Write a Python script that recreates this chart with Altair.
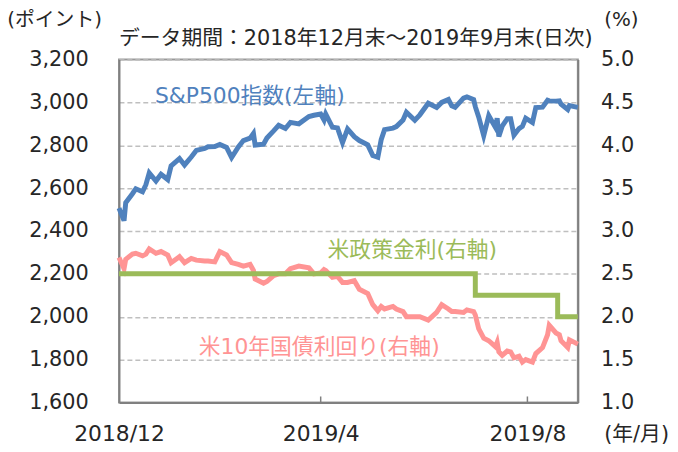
import altair as alt
import pandas as pd

# ---- data ----
dates = [
    "2018-12-31", "2019-01-03", "2019-01-04", "2019-01-08", "2019-01-10", "2019-01-14",
    "2019-01-16", "2019-01-18", "2019-01-22", "2019-01-25", "2019-01-29", "2019-01-31",
    "2019-02-05", "2019-02-08", "2019-02-12", "2019-02-15", "2019-02-20", "2019-02-22",
    "2019-02-26", "2019-03-01", "2019-03-05", "2019-03-08", "2019-03-12", "2019-03-15",
    "2019-03-19", "2019-03-21", "2019-03-22", "2019-03-27", "2019-03-29", "2019-04-02",
    "2019-04-05", "2019-04-09", "2019-04-12", "2019-04-17", "2019-04-23", "2019-04-26",
    "2019-04-30", "2019-05-02", "2019-05-03", "2019-05-07", "2019-05-10", "2019-05-13",
    "2019-05-16", "2019-05-20", "2019-05-23", "2019-05-28", "2019-05-31", "2019-06-03",
    "2019-06-05", "2019-06-07", "2019-06-12", "2019-06-14", "2019-06-18", "2019-06-20",
    "2019-06-25", "2019-06-28", "2019-07-03", "2019-07-08", "2019-07-11", "2019-07-15",
    "2019-07-17", "2019-07-19", "2019-07-24", "2019-07-26", "2019-07-30", "2019-07-31",
    "2019-08-02", "2019-08-05", "2019-08-08", "2019-08-12", "2019-08-13", "2019-08-14",
    "2019-08-16", "2019-08-19", "2019-08-21", "2019-08-23", "2019-08-26", "2019-08-28",
    "2019-08-30", "2019-09-03", "2019-09-05", "2019-09-09", "2019-09-12", "2019-09-13",
    "2019-09-17", "2019-09-19", "2019-09-20", "2019-09-24", "2019-09-25", "2019-09-30",
]
sp500 = [
    2507, 2448, 2532, 2574, 2597, 2583,
    2616, 2671, 2633, 2665, 2640, 2704,
    2738, 2708, 2745, 2776, 2785, 2793,
    2794, 2804, 2790, 2743, 2792, 2822,
    2833, 2855, 2801, 2805, 2834, 2867,
    2893, 2878, 2907, 2900, 2934, 2940,
    2946, 2918, 2946, 2884, 2881, 2812,
    2876, 2840, 2822, 2802, 2752, 2744,
    2826, 2873, 2880, 2887, 2918, 2954,
    2917, 2942, 2996, 2976, 3000, 3014,
    2984, 2977, 3020, 3026, 3013, 2980,
    2932, 2845, 2938, 2883, 2926, 2841,
    2889, 2924, 2924, 2847, 2878, 2888,
    2926, 2906, 2976, 2978, 3010, 3007,
    3006, 3007, 2992, 2967, 2985, 2977,
]
ust10 = [
    2.69, 2.56, 2.67, 2.73, 2.74, 2.71,
    2.73, 2.79, 2.74, 2.76, 2.72, 2.63,
    2.70, 2.63, 2.68, 2.66, 2.65, 2.65,
    2.64, 2.76, 2.72, 2.63, 2.61, 2.59,
    2.61, 2.54, 2.44, 2.39, 2.41, 2.48,
    2.50, 2.50, 2.56, 2.59, 2.57, 2.50,
    2.51, 2.55, 2.54, 2.46, 2.47, 2.40,
    2.40, 2.42, 2.32, 2.27, 2.14, 2.07,
    2.12, 2.09, 2.12, 2.09, 2.06, 2.00,
    2.00, 2.00, 1.96, 2.05, 2.14, 2.09,
    2.06, 2.06, 2.05, 2.08, 2.06, 2.02,
    1.86, 1.75, 1.72, 1.65, 1.70, 1.59,
    1.55, 1.60, 1.59, 1.52, 1.54, 1.47,
    1.50, 1.47, 1.57, 1.64, 1.79, 1.90,
    1.81, 1.79, 1.72, 1.64, 1.73, 1.68,
]
fed_dates = ["2018-12-31", "2019-07-31", "2019-09-18", "2019-09-30"]
fed_rate = [2.50, 2.25, 2.00, 2.00]

left_ticks = [1600, 1800, 2000, 2200, 2400, 2600, 2800, 3000, 3200]
right_ticks = [1.0, 1.5, 2.0, 2.5, 3.0, 3.5, 4.0, 4.5, 5.0]
x_tick_dates = ["2019-04-30", "2019-08-31"]

df = pd.DataFrame({"date": dates, "sp": sp500, "ust": ust10})
fed = pd.DataFrame({"date": fed_dates, "rate": fed_rate})
xt = pd.DataFrame({"date": x_tick_dates})

W, H = 463, 346
NUMFONT = "DejaVu Sans"
FONT = "DejaVu Sans, Noto Sans CJK JP"
BLUE = "#4F81BD"
GREEN = "#9BBB59"
PINK = "#FF9494"
TXT = "#262626"
AXSIZE = 21

xscale = alt.Scale(type="utc", domain=["2018-12-31", "2019-09-30"])
xaxis = alt.Axis(
    values=[alt.DateTime(year=2018, month=12, date=31, utc=True),
            alt.DateTime(year=2019, month=4, date=30, utc=True),
            alt.DateTime(year=2019, month=8, date=31, utc=True)],
    labelExpr="utcFormat(datum.value, '%Y/%-m')",
    title=None, ticks=False, grid=False, labelPadding=21, labelFontSize=22,
    labelColor=TXT, labelFont=NUMFONT, domainColor="#808080", domainWidth=2,
    labelAngle=0, labelFlush=False, labelBound=False, labelOverlap=False,
)
yl = alt.Scale(domain=[1600, 3200], nice=False, zero=False)
yr = alt.Scale(domain=[1.0, 5.0], nice=False, zero=False)

sp_line = alt.Chart(df).mark_line(color=BLUE, strokeWidth=5).encode(
    x=alt.X("date:T", scale=xscale, axis=xaxis),
    y=alt.Y("sp:Q", scale=yl, axis=alt.Axis(
        values=left_ticks, format=",.0f", title=None, ticks=False, orient="left",
        grid=True, gridDash=[5, 3], gridColor="#BFBFBF", gridWidth=1.5,
        labelPadding=31, labelFontSize=AXSIZE, labelColor=TXT, labelFont=NUMFONT,
        domainColor="#808080", domainWidth=2, labelOverlap=False, labelFlush=False)),
)

ust_line = alt.Chart(df).mark_line(color=PINK, strokeWidth=5).encode(
    x=alt.X("date:T", scale=xscale),
    y=alt.Y("ust:Q", scale=yr, axis=alt.Axis(
        values=right_ticks, format=".1f", title=None, ticks=False, orient="right",
        grid=False, labelPadding=23, labelFontSize=AXSIZE, labelColor=TXT,
        labelFont=NUMFONT, domainColor="#808080", domainWidth=2,
        labelOverlap=False, labelFlush=False)),
)

fed_line = alt.Chart(fed).mark_line(color=GREEN, strokeWidth=5, interpolate="step-after").encode(
    x=alt.X("date:T", scale=xscale),
    y=alt.Y("rate:Q", scale=yr, axis=None),
)

xticks = alt.Chart(xt).mark_rule(color="#808080", strokeWidth=1.5).encode(
    x=alt.X("date:T", scale=xscale),
    y=alt.value(H - 6), y2=alt.value(H),
)

def label(text, x, y, color, size=21, align="center"):
    return alt.Chart(pd.DataFrame({"t": [text]})).mark_text(
        font=FONT, fontSize=size, color=color, align=align, baseline="middle"
    ).encode(text="t:N", x=alt.value(x), y=alt.value(y))

labels = [
    label("(ポイント)", -65, -40, TXT, 20),
    label("データ期間：2018年12月末～2019年9月末(日次)", 0, -21, TXT, 21, "left"),
    label("(%)", 507, -40, TXT, 20),
    label("(年/月)", 555, 379, TXT, 21, "right"),
    label("S&P500指数(左軸)", 132, 37, BLUE, 22),
    label("米政策金利(右軸)", 296, 192, GREEN, 22),
    label("米10年国債利回り(右軸)", 202, 290, PINK, 22),
]

chart = alt.layer(sp_line, ust_line, fed_line, xticks, *labels).resolve_scale(
    y="independent"
).properties(
    width=W, height=H,
    padding={"left": 112, "top": 50, "right": 93, "bottom": 46},
    autosize=alt.AutoSizeParams(type="none"),
).configure_view(stroke="#999999", strokeWidth=2)

chart.save("out.html", embed_options={"renderer": "svg", "actions": False})
